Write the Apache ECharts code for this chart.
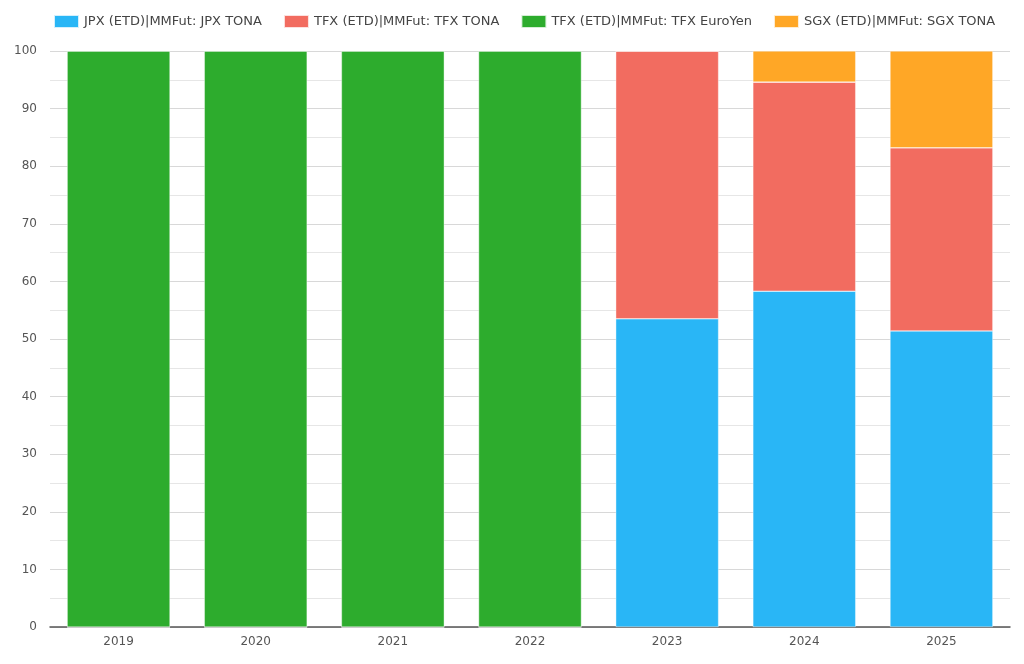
<!DOCTYPE html>
<html>
<head>
<meta charset="utf-8">
<script src="https://cdn.jsdelivr.net/npm/echarts@6/dist/echarts.min.js"></script>
<style>html,body{margin:0;padding:0;background:#fff}#c{width:1024px;height:664px}</style>
</head>
<body>
<div id="c"></div>
<script>
var categories = ['2019', '2020', '2021', '2022', '2023', '2024', '2025'];
var jpxTona = [0, 0, 0, 0, 53.5, 58.3, 51.4];
var tfxTona = [0, 0, 0, 0, 46.5, 36.3, 31.8];
var tfxEuroYen = [100, 100, 100, 100, 0, 0, 0];
var sgxTona = [0, 0, 0, 0, 0, 5.4, 16.8];
var seriesNames = ['JPX (ETD)|MMFut: JPX TONA', 'TFX (ETD)|MMFut: TFX TONA', 'TFX (ETD)|MMFut: TFX EuroYen', 'SGX (ETD)|MMFut: SGX TONA'];
var colors = ['#29b6f6', '#f26c60', '#2dac2d', '#ffa726'];
var yTicks = [0, 10, 20, 30, 40, 50, 60, 70, 80, 90, 100];

var chart = echarts.init(document.getElementById('c'));
var dataSets = [jpxTona, tfxTona, tfxEuroYen, sgxTona];
chart.setOption({
  animation: false,
  color: colors,
  textStyle: {fontFamily: 'DejaVu Sans'},
  legend: {
    top: 9, left: 48, itemWidth: 25, itemHeight: 13, itemGap: 21,
    icon: 'rect',
    textStyle: {fontSize: 13, color: '#444', fontFamily: 'DejaVu Sans'},
    data: seriesNames
  },
  grid: {left: 50, right: 14, top: 51, bottom: 37, containLabel: false},
  xAxis: {
    type: 'category', data: categories,
    axisLine: {lineStyle: {color: '#555', width: 1.5}},
    axisTick: {show: false},
    axisLabel: {color: '#555', fontSize: 12, margin: 9}
  },
  yAxis: {
    type: 'value', min: yTicks[0], max: yTicks[yTicks.length - 1], interval: 10,
    axisLine: {show: false}, axisTick: {show: false},
    axisLabel: {color: '#555', fontSize: 12, margin: 13},
    splitLine: {lineStyle: {color: '#d8d8d8'}},
    minorTick: {show: false, splitNumber: 2},
    minorSplitLine: {show: true, lineStyle: {color: '#e6e6e6'}}
  },
  series: seriesNames.map(function (n, i) {
    return {
      name: n, type: 'bar', stack: 'total', barCategoryGap: '25%',
      itemStyle: {borderColor: 'rgba(255,255,255,0.8)', borderWidth: 0.5},
      data: dataSets[i]
    };
  })
});
</script>
</body>
</html>
